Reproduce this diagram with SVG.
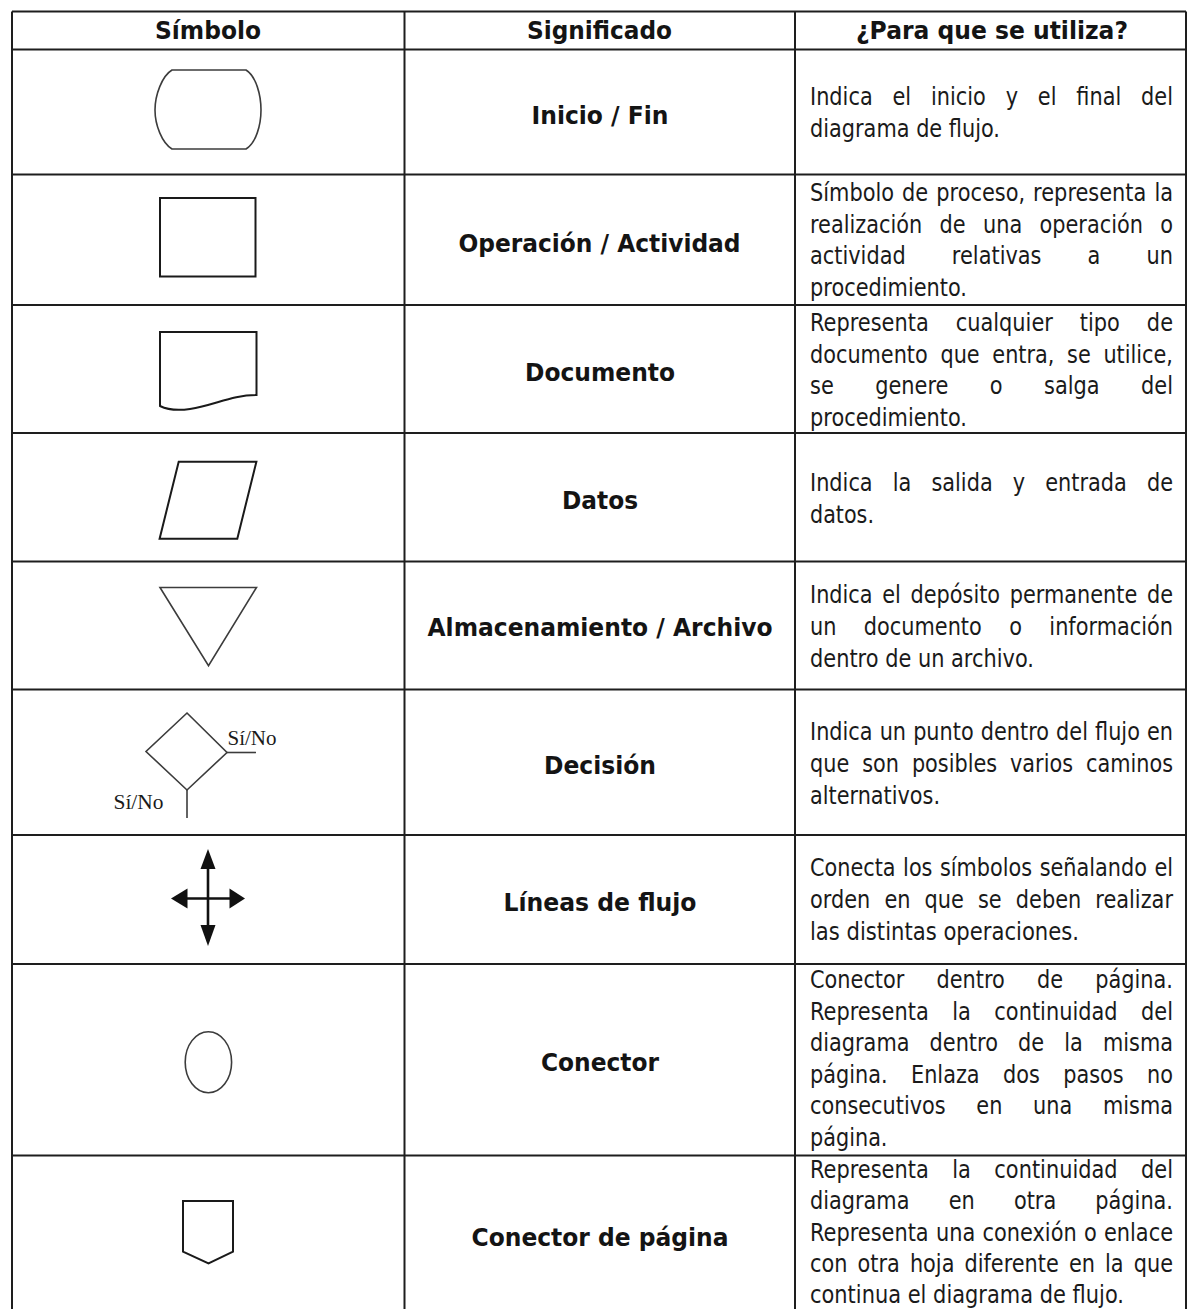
<svg xmlns="http://www.w3.org/2000/svg" width="1188" height="1309" viewBox="0 0 1188 1309">
<style>
  .grid { stroke:#1e1e1e; stroke-width:2; fill:none; }
  .sym { stroke:#1a1a1a; stroke-width:2; fill:#fff; }
  .symg { stroke:#3c3c3c; stroke-width:1.6; fill:#fff; }
  .hd { font-family:"DejaVu Sans","Verdana",sans-serif; font-weight:bold; font-size:24px; fill:#141414; }
  .lb { font-family:"DejaVu Sans","Verdana",sans-serif; font-weight:bold; font-size:24px; fill:#141414; }
  .tx { font-family:"DejaVu Sans","Verdana",sans-serif; font-size:21px; fill:#1a1a1a; }
  .sn { font-family:"Liberation Serif","Times New Roman",serif; font-size:20px; fill:#1a1a1a; }
  .arr { fill:#111; }
</style>
<rect x="0" y="0" width="1188" height="1309" fill="#fff"/>

<g id="grid" class="grid">
  <line x1="12" y1="11.5" x2="1186" y2="11.5"/>
  <line x1="12" y1="11.5" x2="12" y2="1309"/>
  <line x1="404.5" y1="11.5" x2="404.5" y2="1309"/>
  <line x1="795" y1="11.5" x2="795" y2="1309"/>
  <line x1="1186" y1="11.5" x2="1186" y2="1309"/>
  <line x1="12" y1="49.5" x2="1186" y2="49.5"/>
  <line x1="12" y1="174.5" x2="1186" y2="174.5"/>
  <line x1="12" y1="305" x2="1186" y2="305"/>
  <line x1="12" y1="433" x2="1186" y2="433"/>
  <line x1="12" y1="561.5" x2="1186" y2="561.5"/>
  <line x1="12" y1="689.5" x2="1186" y2="689.5"/>
  <line x1="12" y1="835" x2="1186" y2="835"/>
  <line x1="12" y1="964" x2="1186" y2="964"/>
  <line x1="12" y1="1155.5" x2="1186" y2="1155.5"/>
</g>

<g id="header">
  <text class="hd" x="155" y="39" textLength="106" lengthAdjust="spacingAndGlyphs">Símbolo</text>
  <text class="hd" x="527" y="39" textLength="145" lengthAdjust="spacingAndGlyphs">Significado</text>
  <text class="hd" x="856" y="39" textLength="272" lengthAdjust="spacingAndGlyphs">¿Para que se utiliza?</text>
</g>

<g id="row-inicio-fin">
  <path class="symg" d="M172,70 H246 C256,76 261,95 261,110 C261,125 256,143 246,149 H172 C162,143 155,125 155,110 C155,95 162,76 172,70 Z"/>
  <text class="lb" x="531.5" y="124" textLength="137" lengthAdjust="spacingAndGlyphs">Inicio / Fin</text>
  <text class="tx" x="810" y="105" transform="matrix(1 0 0 1.2 0 -21)" textLength="363" lengthAdjust="spacingAndGlyphs" style="word-spacing:13.3px">Indica el inicio y el final del</text>
  <text class="tx" x="810" y="137.5" transform="matrix(1 0 0 1.2 0 -27.5)" textLength="190" lengthAdjust="spacingAndGlyphs">diagrama de flujo.</text>
</g>

<g id="row-operacion">
  <rect class="sym" x="160" y="198" width="95.5" height="78.5"/>
  <text class="lb" x="458.5" y="252" textLength="282" lengthAdjust="spacingAndGlyphs">Operación / Actividad</text>
  <text class="tx" x="810" y="201.5" transform="matrix(1 0 0 1.2 0 -40.3)" textLength="363" lengthAdjust="spacingAndGlyphs" style="word-spacing:1.4px">Símbolo de proceso, representa la</text>
  <text class="tx" x="810" y="233" transform="matrix(1 0 0 1.2 0 -46.6)" textLength="363" lengthAdjust="spacingAndGlyphs" style="word-spacing:10.8px">realización de una operación o</text>
  <text class="tx" x="810" y="264.5" transform="matrix(1 0 0 1.2 0 -52.9)" textLength="363" lengthAdjust="spacingAndGlyphs" style="word-spacing:39.7px">actividad relativas a un</text>
  <text class="tx" x="810" y="296" transform="matrix(1 0 0 1.2 0 -59.2)" textLength="157" lengthAdjust="spacingAndGlyphs">procedimiento.</text>
</g>

<g id="row-documento">
  <path class="sym" d="M160,332 L256.5,332 L256.5,395 C232,395 215,405 190,409 C176,411 166,409 160,406 Z"/>
  <text class="lb" x="525" y="380.5" textLength="150" lengthAdjust="spacingAndGlyphs">Documento</text>
  <text class="tx" x="810" y="331.5" transform="matrix(1 0 0 1.2 0 -66.3)" textLength="363" lengthAdjust="spacingAndGlyphs" style="word-spacing:20.4px">Representa cualquier tipo de</text>
  <text class="tx" x="810" y="363" transform="matrix(1 0 0 1.2 0 -72.6)" textLength="363" lengthAdjust="spacingAndGlyphs" style="word-spacing:6.1px">documento que entra, se utilice,</text>
  <text class="tx" x="810" y="394.5" transform="matrix(1 0 0 1.2 0 -78.9)" textLength="363" lengthAdjust="spacingAndGlyphs" style="word-spacing:34.9px">se genere o salga del</text>
  <text class="tx" x="810" y="426" transform="matrix(1 0 0 1.2 0 -85.2)" textLength="157" lengthAdjust="spacingAndGlyphs">procedimiento.</text>
</g>

<g id="row-datos">
  <polygon class="sym" points="178.7,461.7 256.4,461.7 237.3,538.7 159.6,538.7"/>
  <text class="lb" x="562" y="508.5" textLength="76" lengthAdjust="spacingAndGlyphs">Datos</text>
  <text class="tx" x="810" y="491" transform="matrix(1 0 0 1.2 0 -98.2)" textLength="363" lengthAdjust="spacingAndGlyphs" style="word-spacing:13.6px">Indica la salida y entrada de</text>
  <text class="tx" x="810" y="523" transform="matrix(1 0 0 1.2 0 -104.6)" textLength="64" lengthAdjust="spacingAndGlyphs">datos.</text>
</g>

<g id="row-almacenamiento">
  <polygon class="symg" points="160,587.5 256.5,587.5 208.5,665.7"/>
  <text class="lb" x="427.5" y="636" textLength="345" lengthAdjust="spacingAndGlyphs">Almacenamiento / Archivo</text>
  <text class="tx" x="810" y="603" transform="matrix(1 0 0 1.2 0 -120.6)" textLength="363" lengthAdjust="spacingAndGlyphs" style="word-spacing:3.1px">Indica el depósito permanente de</text>
  <text class="tx" x="810" y="635" transform="matrix(1 0 0 1.2 0 -127)" textLength="363" lengthAdjust="spacingAndGlyphs" style="word-spacing:20.9px">un documento o información</text>
  <text class="tx" x="810" y="667" transform="matrix(1 0 0 1.2 0 -133.4)" textLength="224" lengthAdjust="spacingAndGlyphs">dentro de un archivo.</text>
</g>

<g id="row-decision">
  <polygon class="symg" points="187,713 227,752.5 187,790 146,751.5"/>
  <line class="symg" x1="227" y1="752.5" x2="256" y2="752.5"/>
  <line class="symg" x1="187" y1="790" x2="187" y2="818"/>
  <text class="sn" x="227.5" y="745" textLength="49" lengthAdjust="spacingAndGlyphs">Sí/No</text>
  <text class="sn" x="113.5" y="809" textLength="50" lengthAdjust="spacingAndGlyphs">Sí/No</text>
  <text class="lb" x="544" y="773.5" textLength="112" lengthAdjust="spacingAndGlyphs">Decisión</text>
  <text class="tx" x="810" y="740" transform="matrix(1 0 0 1.2 0 -148)" textLength="363" lengthAdjust="spacingAndGlyphs" style="word-spacing:0.5px">Indica un punto dentro del flujo en</text>
  <text class="tx" x="810" y="772" transform="matrix(1 0 0 1.2 0 -154.4)" textLength="363" lengthAdjust="spacingAndGlyphs" style="word-spacing:6.4px">que son posibles varios caminos</text>
  <text class="tx" x="810" y="804" transform="matrix(1 0 0 1.2 0 -160.8)" textLength="130" lengthAdjust="spacingAndGlyphs">alternativos.</text>
</g>

<g id="row-lineas-flujo">
  <line x1="208" y1="860" x2="208" y2="935" stroke="#111" stroke-width="2.6"/>
  <line x1="180" y1="898.5" x2="236" y2="898.5" stroke="#111" stroke-width="2.6"/>
  <polygon class="arr" points="208,849 200.5,869 215.5,869"/>
  <polygon class="arr" points="208,946 200.5,925 215.5,925"/>
  <polygon class="arr" points="171,898.5 187.5,888.5 187.5,908.5"/>
  <polygon class="arr" points="245,898.5 229.5,888.5 229.5,908.5"/>
  <text class="lb" x="503.5" y="910.5" textLength="193" lengthAdjust="spacingAndGlyphs">Líneas de flujo</text>
  <text class="tx" x="810" y="876" transform="matrix(1 0 0 1.2 0 -175.2)" textLength="363" lengthAdjust="spacingAndGlyphs" style="word-spacing:0.9px">Conecta los símbolos señalando el</text>
  <text class="tx" x="810" y="908" transform="matrix(1 0 0 1.2 0 -181.6)" textLength="363" lengthAdjust="spacingAndGlyphs" style="word-spacing:7.5px">orden en que se deben realizar</text>
  <text class="tx" x="810" y="940" transform="matrix(1 0 0 1.2 0 -188)" textLength="269" lengthAdjust="spacingAndGlyphs">las distintas operaciones.</text>
</g>

<g id="row-conector">
  <ellipse class="symg" cx="208.4" cy="1062.2" rx="23.2" ry="30.5"/>
  <text class="lb" x="541" y="1071" textLength="118" lengthAdjust="spacingAndGlyphs">Conector</text>
  <text class="tx" x="810" y="988.5" transform="matrix(1 0 0 1.2 0 -197.7)" textLength="363" lengthAdjust="spacingAndGlyphs" style="word-spacing:25.7px">Conector dentro de página.</text>
  <text class="tx" x="810" y="1020" transform="matrix(1 0 0 1.2 0 -204)" textLength="363" lengthAdjust="spacingAndGlyphs" style="word-spacing:16.9px">Representa la continuidad del</text>
  <text class="tx" x="810" y="1051.5" transform="matrix(1 0 0 1.2 0 -210.3)" textLength="363" lengthAdjust="spacingAndGlyphs" style="word-spacing:13.6px">diagrama dentro de la misma</text>
  <text class="tx" x="810" y="1083" transform="matrix(1 0 0 1.2 0 -216.6)" textLength="363" lengthAdjust="spacingAndGlyphs" style="word-spacing:16.9px">página. Enlaza dos pasos no</text>
  <text class="tx" x="810" y="1114.5" transform="matrix(1 0 0 1.2 0 -222.9)" textLength="363" lengthAdjust="spacingAndGlyphs" style="word-spacing:24.3px">consecutivos en una misma</text>
  <text class="tx" x="810" y="1146" transform="matrix(1 0 0 1.2 0 -229.2)" textLength="77.5" lengthAdjust="spacingAndGlyphs">página.</text>
</g>

<g id="row-conector-pagina">
  <polygon class="sym" points="183,1201 233,1201 233,1251.7 208.5,1263.3 183,1251.7"/>
  <text class="lb" x="471.5" y="1246" textLength="257" lengthAdjust="spacingAndGlyphs">Conector de página</text>
  <text class="tx" x="810" y="1178" transform="matrix(1 0 0 1.2 0 -235.6)" textLength="363" lengthAdjust="spacingAndGlyphs" style="word-spacing:16.9px">Representa la continuidad del</text>
  <text class="tx" x="810" y="1209.5" transform="matrix(1 0 0 1.2 0 -241.9)" textLength="363" lengthAdjust="spacingAndGlyphs" style="word-spacing:32.8px">diagrama en otra página.</text>
  <text class="tx" x="810" y="1241" transform="matrix(1 0 0 1.2 0 -248.2)" textLength="363" lengthAdjust="spacingAndGlyphs" style="word-spacing:0.6px">Representa una conexión o enlace</text>
  <text class="tx" x="810" y="1272" transform="matrix(1 0 0 1.2 0 -254.4)" textLength="363" lengthAdjust="spacingAndGlyphs" style="word-spacing:3.5px">con otra hoja diferente en la que</text>
  <text class="tx" x="810" y="1303.5" transform="matrix(1 0 0 1.2 0 -260.7)" textLength="314" lengthAdjust="spacingAndGlyphs">continua el diagrama de flujo.</text>
</g>
</svg>
